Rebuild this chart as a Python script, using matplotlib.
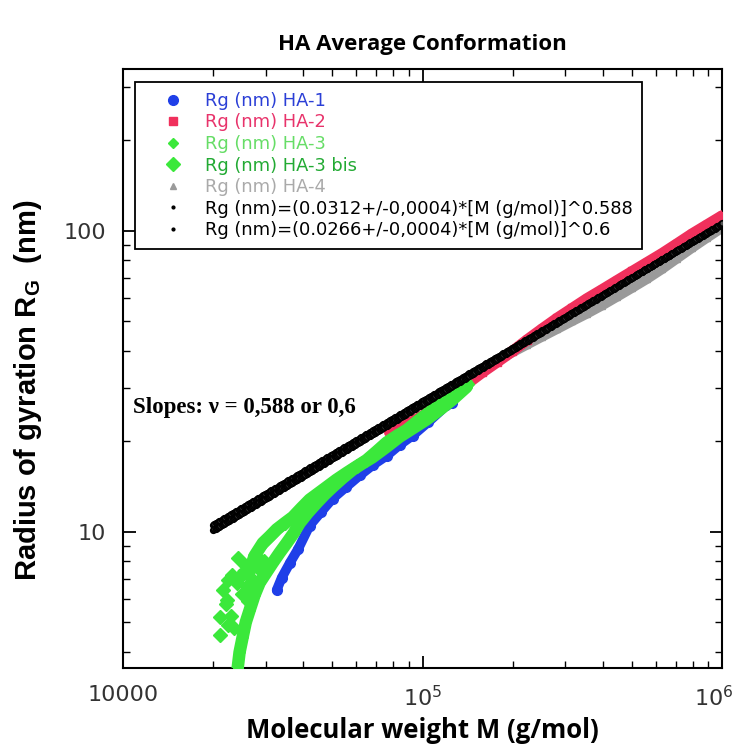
import numpy as np
import matplotlib
matplotlib.use("Agg")
import matplotlib.pyplot as plt
from matplotlib.ticker import FixedLocator, FuncFormatter, NullFormatter
from matplotlib.transforms import ScaledTranslation

plt.rcParams['mathtext.default'] = 'regular'

# ---- data (M in g/mol, Rg in nm) ----
ha1_m = [32600, 33900, 36100, 38500, 42000, 45700, 50100, 55600, 61700, 68400,
         75900, 84100, 92700, 104700, 120200, 125900]
ha1_rg = [6.41, 7.05, 7.9, 8.8, 10.5, 11.6, 12.9, 14.1, 15.4, 16.7,
          17.9, 19.5, 20.9, 23.2, 26.3, 26.9]

ha2_m = [77600, 89100, 100000, 112200, 125900, 141300, 158500, 177800, 199500, 223900,
         251200, 281800, 316200, 354800, 398100, 446700, 501200, 562300, 631000, 708000,
         794300, 891300, 1000000]
ha2_rg = [21.4, 22.8, 24.3, 26.3, 28.5, 31.1, 33.9, 36.7, 39.8, 43.5,
          47.3, 51.3, 55.3, 59.6, 63.8, 68.4, 73.3, 78.5, 84.1, 90.6,
          97.7, 104.7, 112.2]

ha3_m = [24150, 24500, 25100, 25700, 26500, 27500, 28600, 30100, 31600, 33300,
         35200, 37200, 38900, 41500, 44400, 47100, 50100, 54100, 58500, 63100,
         68100, 75500, 83800, 92900, 103000, 113800, 125900, 140300]
ha3_rg = [3.53, 3.98, 4.48, 5.01, 5.51, 6.17, 6.78, 7.33, 7.89, 8.51,
          9.18, 9.93, 10.7, 11.6, 12.5, 13.3, 14.1, 15.1, 16.1, 16.9,
          17.7, 19.1, 20.7, 22.1, 23.6, 25.4, 27.5, 30.3]

# scattered cloud first, then the smooth part of the band
ha3b_m = [21000, 21000, 22100, 21500, 22400, 22900, 23400, 24000, 24200, 22300,
          23100, 22400, 25500, 27500, 26000, 27000, 28500, 25000, 29500, 26200,
          25100, 26500, 27500, 29300, 30900, 32600, 34700, 36900, 39400, 42000,
          44700, 47900, 51600, 55800, 60300, 65000, 70300, 75900, 81800, 88500,
          97700, 107900, 119700, 132700, 141300]
ha3b_rg = [4.55, 5.22, 5.75, 6.41, 6.92, 5.25, 4.79, 6.78, 8.20, 5.95,
           7.2, 4.9, 7.76, 8.4, 6.6, 7.0, 7.5, 6.2, 8.0, 5.9,
           7.24, 7.48, 8.32, 9.18, 9.66, 10.2, 10.7, 11.2, 12.0, 12.8,
           13.4, 14.1, 14.9, 15.7, 16.5, 17.3, 18.5, 19.8, 20.8, 21.8,
           23.6, 25.4, 27.4, 29.6, 30.9]

ha4_m = [190500, 223900, 251200, 281800, 316200, 354800, 398100, 446700, 501200, 562300,
         631000, 708000, 794300, 891300, 1000000]
ha4_rg = [38.5, 41.9, 44.5, 47.2, 50.1, 53.1, 56.5, 60.4, 64.6, 69.2,
          74.6, 80.9, 87.7, 94.8, 102.3]

# power-law fits given in the legend
fit_a = [0.0312, 0.0266]
fit_nu = [0.588, 0.6]
fit_mrange = [2e4, 1e6]

labels = ['Rg (nm) HA-1', 'Rg (nm) HA-2', 'Rg (nm) HA-3', 'Rg (nm) HA-3 bis',
          'Rg (nm) HA-4',
          'Rg (nm)=(0.0312+/-0,0004)*[M (g/mol)]^0.588',
          'Rg (nm)=(0.0266+/-0,0004)*[M (g/mol)]^0.6']
label_colors = ['#2b3fd6', '#e8336b', '#66dd66', '#22aa33', '#aaaaaa', 'black', 'black']

c_blue = '#1f3fe8'
c_red = '#f0305c'
c_green = '#3be83b'
c_gray = '#9a9a9a'

fig = plt.figure(figsize=(7.39, 7.53), dpi=100)
ax = fig.add_axes([123/739, 1 - 668/753, 599/739, 599/753])

# bands (dense points in the original look like thick strokes)
ax.plot(ha4_m, ha4_rg, color=c_gray, lw=7, solid_capstyle='round', zorder=2)
ax.plot(ha2_m, ha2_rg, color=c_red, lw=8, solid_capstyle='round', zorder=3)
ax.plot(ha1_m, ha1_rg, color=c_blue, lw=7, solid_capstyle='round', zorder=4)
ax.plot(ha3_m, ha3_rg, color=c_green, lw=9, solid_capstyle='round', zorder=5)
ax.plot(ha3b_m[20:], ha3b_rg[20:], color=c_green, lw=9, solid_capstyle='round', zorder=5)

ax.plot(ha1_m, ha1_rg, ls='none', marker='o', ms=7, color=c_blue, zorder=4, label=labels[0])
ax.plot(ha2_m, ha2_rg, ls='none', marker='s', ms=6, color=c_red, zorder=3, label=labels[1])
ax.plot(ha3_m, ha3_rg, ls='none', marker='D', ms=5.5, color=c_green, zorder=5, label=labels[2])
ax.plot(ha3b_m, ha3b_rg, ls='none', marker='D', ms=7, color=c_green, zorder=5, label=labels[3])
ax.plot(ha4_m, ha4_rg, ls='none', marker='^', ms=5, color=c_gray, zorder=2, label=labels[4])

mgrid = np.geomspace(fit_mrange[0], fit_mrange[1], 420)
for a, nu, lab in zip(fit_a, fit_nu, labels[5:]):
    ax.plot(mgrid, a * mgrid ** nu, ls='none', marker='o', ms=4, mfc='#555555',
            mec='black', mew=1.2, zorder=6)
    ax.plot([], [], ls='none', marker='.', ms=4, color='black', label=lab)

ax.set_xscale('log')
ax.set_yscale('log')
ax.set_xlim(1e4, 1e6)
ax.set_ylim(3.53, 345)

ax.xaxis.set_major_locator(FixedLocator([1e4, 1e5, 1e6]))
xlab = {1e4: '10000', 1e5: r'$10^5$', 1e6: r'$10^6$'}
ax.xaxis.set_major_formatter(FuncFormatter(lambda v, p: xlab.get(v, '')))
ax.xaxis.set_minor_locator(FixedLocator([k * 10 ** e for e in (4, 5) for k in range(2, 10)]))
ax.xaxis.set_minor_formatter(NullFormatter())
ax.yaxis.set_major_locator(FixedLocator([10, 100]))
ax.yaxis.set_major_formatter(FuncFormatter(lambda v, p: '%d' % v))
ax.yaxis.set_minor_locator(FixedLocator([4, 5, 6, 7, 8, 9, 20, 30, 40, 50, 60, 70, 80, 90, 200, 300]))
ax.yaxis.set_minor_formatter(NullFormatter())

ax.tick_params(which='both', direction='in', top=True, right=True, colors='black',
               labelcolor='#333333', labelsize=16)
ax.tick_params(which='major', length=9, width=1.3, pad=12)
ax.tick_params(which='minor', length=5, width=1.0)
for s in ax.spines.values():
    s.set_linewidth(1.5)

fig.canvas.draw()
last = ax.get_xticklabels()[-1]
last.set_transform(last.get_transform() + ScaledTranslation(-8 / 100, 0, fig.dpi_scale_trans))

ax.set_title('HA Average Conformation', fontsize=16, fontweight='bold',
             family=['Open Sans', 'DejaVu Sans'], pad=14)
ax.set_xlabel('Molecular weight M (g/mol)', fontsize=18.5, fontweight='bold',
              family=['Open Sans', 'DejaVu Sans'])
ax.xaxis.set_label_coords(0.5, -(717 - 668) / 599)
ax.set_ylabel(r'Radius of gyration R$_{G}$  (nm)', fontsize=21,
              fontweight='bold', family='Liberation Sans')
ax.yaxis.set_label_coords(-(123 - 44) / 599, 1 - (390 - 69) / 599)

ax.text((133 - 123) / 599, 1 - (408 - 69) / 599, 'Slopes: \u03bd = 0,588 or 0,6',
        transform=ax.transAxes, ha='left', va='center', fontsize=16.5,
        fontweight='bold', family='Liberation Serif', zorder=7)

leg = ax.legend(loc='upper left', bbox_to_anchor=((135 - 123) / 599, 1 - (82 - 69) / 599),
                borderaxespad=0, fontsize=12.9, frameon=True, fancybox=False,
                edgecolor='black', framealpha=1, borderpad=0.55, labelspacing=0.2,
                handlelength=3.1, handletextpad=0.25, markerscale=1.0)
leg.get_frame().set_linewidth(1.3)
leg.set_zorder(10)
for t, c in zip(leg.get_texts(), label_colors):
    t.set_color(c)

fig.savefig('out.png', dpi=100)
